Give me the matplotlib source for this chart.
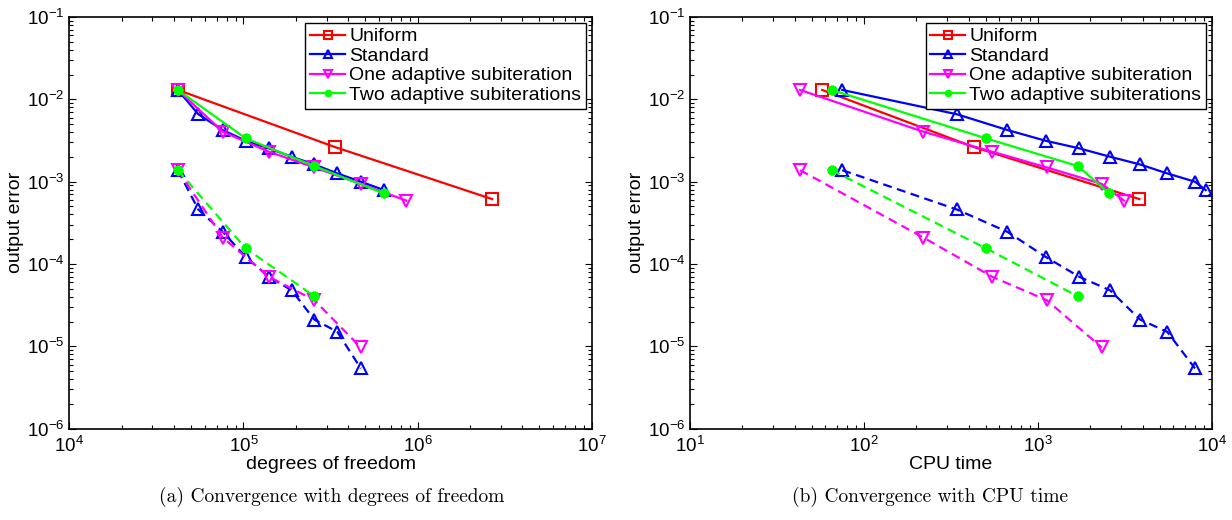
import matplotlib
matplotlib.use("Agg")
import matplotlib.pyplot as plt
from matplotlib.ticker import LogLocator, LogFormatterSciNotation, NullFormatter

plt.rcParams['font.family'] = ['Liberation Sans', 'DejaVu Sans']
plt.rcParams['mathtext.fontset'] = 'custom'
plt.rcParams['mathtext.rm'] = 'Liberation Sans'
plt.rcParams['mathtext.it'] = 'Liberation Sans:italic'
plt.rcParams['mathtext.bf'] = 'Liberation Sans:bold'

# degrees of freedom per refinement level
dof_uniform = [4.2e4, 3.36e5, 2.68e6]
dof_standard = [4.2e4, 5.5e4, 7.6e4, 1.03e5, 1.4e5, 1.89e5, 2.55e5, 3.46e5, 4.72e5, 6.43e5]
dof_one = [4.2e4, 7.6e4, 1.4e5, 2.55e5, 4.72e5, 8.6e5]
dof_two = [4.2e4, 1.03e5, 2.55e5, 6.4e5]

# CPU time per refinement level
cpu_uniform = [57.5, 429, 3820]
cpu_standard = [75, 341, 667, 1107, 1726, 2592, 3855, 5534, 7980, 9200]
cpu_one = [42.9, 219, 546, 1122, 2323, 3118]
cpu_two = [65.2, 502, 1690, 2570]

# output error, solid = first output, dashed = second output
err_uniform = [1.3e-2, 2.63e-3, 6.15e-4]
err_standard = [1.3e-2, 6.6e-3, 4.24e-3, 3.14e-3, 2.54e-3, 2.01e-3, 1.62e-3, 1.26e-3, 1.0e-3, 7.9e-4]
err_one = [1.3e-2, 4.05e-3, 2.31e-3, 1.49e-3, 9.4e-4, 5.9e-4]
err_two = [1.3e-2, 3.36e-3, 1.55e-3, 7.2e-4]

err2_standard = [1.38e-3, 4.6e-4, 2.46e-4, 1.22e-4, 7.0e-5, 4.8e-5, 2.12e-5, 1.5e-5, 5.4e-6]
err2_one = [1.38e-3, 2.1e-4, 7.0e-5, 3.64e-5, 9.7e-6]
err2_two = [1.38e-3, 1.55e-4, 4.07e-5]

labels = ['Uniform', 'Standard', 'One adaptive subiteration', 'Two adaptive subiterations']
colors = ['#ff0000', '#0000ff', '#ff00ff', '#00ff00']
markers = ['s', '^', 'v', (8, 2, 0)]


def draw(ax, xs, xlim, xlabel):
    errs = [err_uniform, err_standard, err_one, err_two]
    errs2 = [None, err2_standard, err2_one, err2_two]
    for x, e, e2, lab, c, m in zip(xs, errs, errs2, labels, colors, markers):
        star = not isinstance(m, str)
        kw = dict(color=c, marker=m, markersize=7 if star else 8,
                  markerfacecolor=c if star else 'none',
                  markeredgecolor=c, markeredgewidth=2.2 if star else 1.5)
        ax.loglog(x, e, '-', lw=1.6, label=lab, **kw)
        if e2 is not None:
            ax.loglog(x[:len(e2)], e2, '--', lw=1.6, dashes=(4, 2.5), **kw)
    ax.set_xlim(*xlim)
    ax.set_ylim(1e-6, 1e-1)
    ax.xaxis.set_major_locator(LogLocator(base=10, numticks=10))
    ax.yaxis.set_major_locator(LogLocator(base=10, numticks=10))
    ax.xaxis.set_major_formatter(LogFormatterSciNotation())
    ax.yaxis.set_major_formatter(LogFormatterSciNotation())
    ax.xaxis.set_minor_formatter(NullFormatter())
    ax.yaxis.set_minor_formatter(NullFormatter())
    ax.tick_params(which='both', direction='in', top=True, right=True, labelsize=13.5)
    ax.tick_params(which='major', length=5, width=0.8)
    ax.tick_params(which='minor', length=3, width=0.8)
    ax.tick_params(axis='x', pad=5)
    for sp in ax.spines.values():
        sp.set_linewidth(1.2)
    ax.set_xlabel(xlabel, fontsize=14, labelpad=0)
    ax.set_ylabel('output error', fontsize=14, labelpad=2)
    leg = ax.legend(loc='upper right', fontsize=14, fancybox=False, framealpha=1,
                    edgecolor='black', borderaxespad=0.3, handlelength=1.8,
                    handletextpad=0.2, labelspacing=0.1, borderpad=0.25,
                    markerscale=0.7)
    leg.get_frame().set_linewidth(1.0)


fig = plt.figure(figsize=(12.32, 5.2), dpi=100)
ax1 = fig.add_axes([0.0563, 0.1755, 0.424, 0.7918])
ax2 = fig.add_axes([0.5601, 0.1755, 0.4237, 0.7918])

draw(ax1, [dof_uniform, dof_standard, dof_one, dof_two], (1e4, 1e7), 'degrees of freedom')
draw(ax2, [cpu_uniform, cpu_standard, cpu_one, cpu_two], (1e1, 1e4), 'CPU time')

fig.text(0.269, 0.044, '(a) Convergence with degrees of freedom', ha='center', va='center',
         family='cmr10', fontsize=14)
fig.text(0.755, 0.044, '(b) Convergence with CPU time', ha='center', va='center',
         family='cmr10', fontsize=14)

fig.savefig('out.png', dpi=100)
